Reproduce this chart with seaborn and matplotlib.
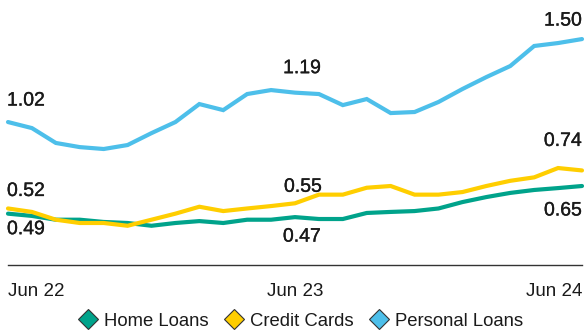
import matplotlib
matplotlib.use("Agg")
import matplotlib.pyplot as plt
import matplotlib.patheffects as pe
from matplotlib.lines import Line2D
import numpy as np
import pandas as pd
import seaborn as sns

# Monthly arrears rates (%), Jun 2022 - Jun 2024
months = pd.date_range("2022-06-01", "2024-06-01", freq="MS")
home_loans = [0.49, 0.477, 0.455, 0.455, 0.442, 0.436, 0.42, 0.436, 0.447, 0.436,
              0.455, 0.455, 0.47, 0.459, 0.459, 0.494, 0.50, 0.505, 0.52, 0.557,
              0.586, 0.61, 0.627, 0.638, 0.65]
credit_cards = [0.52, 0.50, 0.455, 0.436, 0.436, 0.42, 0.455, 0.49, 0.53, 0.505,
                0.52, 0.534, 0.55, 0.60, 0.60, 0.64, 0.65, 0.60, 0.60, 0.615,
                0.65, 0.68, 0.70, 0.754, 0.74]
personal_loans = [1.02, 0.985, 0.899, 0.875, 0.864, 0.887, 0.956, 1.02, 1.124, 1.089,
                  1.182, 1.205, 1.19, 1.182, 1.118, 1.153, 1.072, 1.078, 1.136, 1.211,
                  1.28, 1.344, 1.46, 1.477, 1.50]
series_names = ["Home Loans", "Credit Cards", "Personal Loans"]
colors = ["#00A38B", "#FFCE00", "#4DBFEA"]
tick_idx = [0, 12, 24]
tick_labels = ["Jun 22", "Jun 23", "Jun 24"]

df = pd.DataFrame({
    "idx": np.tile(np.arange(len(months)), 3),
    "value": home_loans + credit_cards + personal_loans,
    "series": np.repeat(series_names, len(months)),
})

sns.set_theme(style="white")
plt.rcParams["font.family"] = ["Liberation Sans", "DejaVu Sans"]
text_color = "#1a1a1a"

fig = plt.figure(figsize=(5.85, 3.31), dpi=100)
ax = fig.add_axes([8 / 585, 1 - 265 / 331, 574 / 585, 265 / 331])

sns.lineplot(data=df, x="idx", y="value", hue="series", hue_order=series_names,
             palette=colors, linewidth=3.0, legend=False, ax=ax)
for ln in ax.lines:
    ln.set_clip_on(False)
    ln.set_solid_joinstyle("miter")

ax.set_xlim(0, 24)
ax.set_ylim(0.193, 1.726)
ax.set_xlabel("")
ax.set_ylabel("")
ax.set_yticks([])
ax.set_xticks(tick_idx)
ax.set_xticklabels(tick_labels)
for spine in ["top", "left", "right"]:
    ax.spines[spine].set_visible(False)
ax.spines["bottom"].set_color("#333333")
ax.spines["bottom"].set_linewidth(1.0)
ax.tick_params(axis="x", length=0, pad=13, labelsize=13.5, labelcolor=text_color)
tl = ax.get_xticklabels()
tl[0].set_ha("left")
tl[-1].set_ha("right")

# Value annotations at start, middle and end of each series
data = {"Home Loans": home_loans, "Credit Cards": credit_cards,
        "Personal Loans": personal_loans}
notes = [
    ("Personal Loans", 0, -1, 21, "left"),
    ("Personal Loans", 12, 7, 24, "center"),
    ("Personal Loans", 24, 0, 18, "right"),
    ("Credit Cards", 0, -1, 17, "left"),
    ("Credit Cards", 12, 8, 16, "center"),
    ("Credit Cards", 24, 0, 29, "right"),
    ("Home Loans", 0, -1, -16, "left"),
    ("Home Loans", 12, 7, -20, "center"),
    ("Home Loans", 24, 0, -25, "right"),
]
heavier = [pe.withStroke(linewidth=0.25, foreground=text_color)]
for name, i, dx, dy, ha in notes:
    v = data[name][i]
    ax.annotate(f"{v:.2f}", xy=(i, v), xytext=(dx, dy), textcoords="offset pixels",
                ha=ha, va="center", fontsize=14, color=text_color,
                annotation_clip=False, path_effects=heavier)

handles = [Line2D([], [], linestyle="none", marker="D", markersize=10.5,
                  markerfacecolor=c, markeredgecolor="#333333", markeredgewidth=0.8)
           for c in colors]
fig.legend(handles, series_names, loc="center", bbox_to_anchor=(300 / 585, 1 - 321 / 331),
           ncol=3, frameon=False, fontsize=13.3, handletextpad=0.25, columnspacing=0.8,
           handlelength=1.2, labelcolor=text_color)

fig.savefig("out.png", dpi=100)
